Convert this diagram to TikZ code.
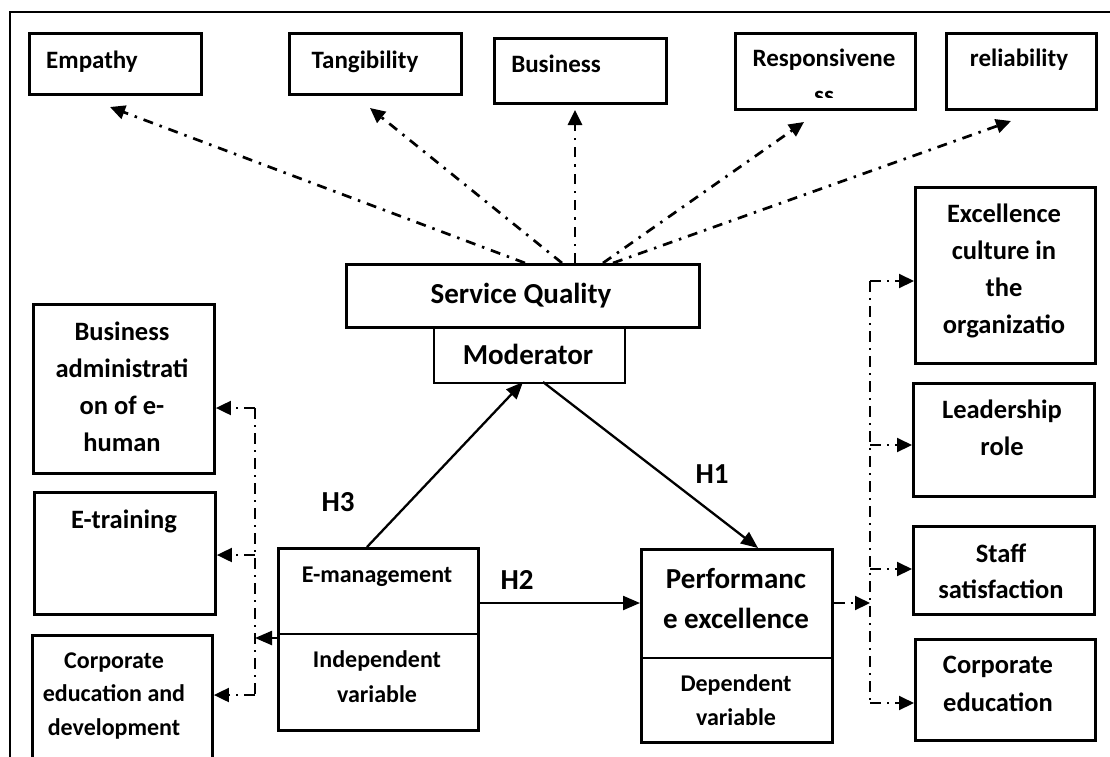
\documentclass[tikz,border=0pt]{standalone}
\usepackage{fontspec}
\setmainfont{Carlito}
\usetikzlibrary{arrows.meta}
\newcommand\mylines[2]{\parbox[t]{#1pt}{\centering #2}}
\begin{document}
\begin{tikzpicture}[x=1pt,y=-1pt,
  box/.style={draw, line width=2.9pt, inner sep=0pt, anchor=north west},
  txt/.style={inner sep=0pt, anchor=base},
  ftop/.style={font=\bfseries\fontsize{25}{37}\selectfont},
  fmid/.style={font=\bfseries\fontsize{26.5}{37}\selectfont},
  fsmall/.style={font=\bfseries\fontsize{24}{34}\selectfont},
  fbig/.style={font=\bfseries\fontsize{29}{40}\selectfont},
  tip/.style={-{Triangle[length=15pt,width=14pt]}},
  dda/.style={line width=2.7pt, dash pattern=on 10pt off 7pt on 2.5pt off 7pt, tip},
  bra/.style={line width=2pt, dash pattern=on 11pt off 6pt on 2pt off 6pt},
  sarrow/.style={line width=2.3pt, -{Triangle[length=17pt,width=14pt]}}]
\clip (0,0) rectangle (1110,756);
% outer frame
\draw[line width=2.7pt] (10,770) -- (10,12) -- (1120,12);

% top boxes
\node[box, minimum width=172pt, minimum height=61pt] (emp) at (28,32) {};
\node[txt, ftop] (empt) at (92,68) {Empathy};
\node[box, minimum width=172pt, minimum height=61pt] (tan) at (288,32) {};
\node[txt, ftop] (tant) at (365,68) {Tangibility};
\node[box, minimum width=172pt, minimum height=65pt] (bus) at (493,37) {};
\node[txt, ftop] (bust) at (556,72) {Business};
\begin{scope}
\clip (735,33) rectangle (913,97);
\node[txt, ftop] (rest) at (824,66) {\mylines{200}{Responsivene\\ss}};
\end{scope}
\node[box, minimum width=180pt, minimum height=76pt] (res) at (734,32) {};
\node[box, minimum width=150pt, minimum height=76pt] (rel) at (945,32) {};
\node[txt, ftop] (relt) at (1019,66) {reliability};

% left boxes
\node[box, minimum width=181pt, minimum height=169pt] (ba) at (32,303) {};
\node[txt, fmid] (bat) at (122,340) {\mylines{200}{Business\\administrati\\on of e-\\human}};
\node[box, minimum width=181pt, minimum height=122pt] (et) at (33,491) {};
\node[txt, fmid] (ett) at (124,528) {E-training};
\node[box, minimum width=180pt, minimum height=140pt] (ced) at (31,634) {};
\node[txt, font=\bfseries\fontsize{24}{33.5}\selectfont] (cedt) at (114,668) {\mylines{200}{Corporate\\education and\\development}};

% centre
\node[box, minimum width=353pt, minimum height=63pt] (sq) at (345,263) {};
\node[txt, fbig] (sqt) at (521,303) {Service Quality};
\node[box, line width=2.3pt, minimum width=191pt, minimum height=56pt] (mod) at (433,326) {};
\node[txt, fbig] (modt) at (528,364) {Moderator};

\node[box, line width=2.5pt, minimum width=200pt, minimum height=182pt] (em) at (277,547) {};
\draw[line width=2.5pt] (em.west |- 0,634) -- (em.east |- 0,634);
\node[txt, fsmall] (emt) at (377,582) {E-management};
\node[txt, font=\bfseries\fontsize{24}{35}\selectfont] (ivt) at (377,667) {\mylines{200}{Independent\\variable}};

\node[box, line width=2.5pt, minimum width=191pt, minimum height=193pt] (pe) at (640,548) {};
\draw[line width=2.5pt] (pe.west |- 0,658) -- (pe.east |- 0,658);
\node[txt, fbig] (pet) at (736,588) {\mylines{200}{Performanc\\e excellence}};
\node[txt, fsmall] (dvt) at (736,691) {\mylines{200}{Dependent\\variable}};

% right boxes
\node[box, minimum width=180pt, minimum height=176pt] (ex) at (914,186) {};
\node[txt, fmid] (ext) at (1004,222) {\mylines{200}{Excellence\\culture in\\the\\organizatio}};
\node[box, minimum width=181pt, minimum height=113pt] (ld) at (912,382) {};
\node[txt, fmid] (ldt) at (1002,418) {\mylines{200}{Leadership\\role}};
\node[box, minimum width=181pt, minimum height=88pt] (sf) at (912,525) {};
\node[txt, font=\bfseries\fontsize{26.5}{36}\selectfont] (sft) at (1001,562) {\mylines{200}{Staff\\satisfaction}};
\node[box, minimum width=180pt, minimum height=101pt] (ce) at (914,638) {};
\node[txt, font=\bfseries\fontsize{26.5}{38}\selectfont] (cet) at (998,673) {\mylines{200}{Corporate\\education}};

% hypothesis labels
\node[txt, fbig] (h3) at (338,511) {H3};
\node[txt, fbig] (h2) at (517,589) {H2};
\node[txt, fbig] (h1) at (712,483) {H1};

% dash-dot arrows from Service Quality
\coordinate (s1) at (525,263); \coordinate (a1) at (110,107);
\coordinate (s2) at (562,263); \coordinate (a2) at (370,108);
\coordinate (s3) at (575,263); \coordinate (a3) at (575,110);
\coordinate (s4) at (603,263); \coordinate (a4) at (804,122);
\coordinate (s5) at (613,263); \coordinate (a5) at (1011,121);
\draw[dda] (s1) -- (a1);
\draw[dda] (s2) -- (a2);
\draw[dda] (s3) -- (a3);
\draw[dda] (s4) -- (a4);
\draw[dda] (s5) -- (a5);

% solid hypothesis arrows
\coordinate (h3s) at (367,547); \coordinate (h3e) at (523,382);
\coordinate (h1s) at (543,382); \coordinate (h1e) at (758,548);
\coordinate (h2s) at (477,603);
\draw[sarrow] (h3s) -- (h3e);
\draw[sarrow] (h1s) -- (h1e);
\draw[sarrow] (h2s) -- (pe.west |- h2s);

% left bracket
\coordinate (lv1) at (255,408);
\coordinate (lv3) at (255,555);
\coordinate (lv4) at (255,638);
\coordinate (lv2) at (255,695);
\draw[bra] (lv1) -- (lv2);
\draw[bra, tip] (lv1) -- (ba.east |- lv1);
\draw[bra, tip] (lv3) -- (et.east |- lv3);
\draw[bra, tip] (lv2) -- (ced.east |- lv2);
\draw[sarrow] (em.west |- lv4) -- (lv4);

% right bracket
\coordinate (rv1) at (870,281);
\coordinate (rv2) at (870,445);
\coordinate (rv3) at (870,569);
\coordinate (rv0) at (870,603);
\coordinate (rv4) at (870,703);
\draw[bra] (rv1) -- (rv4);
\draw[bra, tip] (pe.east |- rv0) -- (rv0);
\draw[bra, tip] (rv1) -- (ex.west |- rv1);
\draw[bra, tip] (rv2) -- (ld.west |- rv2);
\draw[bra, tip] (rv3) -- (sf.west |- rv3);
\draw[bra, tip] (rv4) -- (ce.west |- rv4);
\end{tikzpicture}
\end{document}
